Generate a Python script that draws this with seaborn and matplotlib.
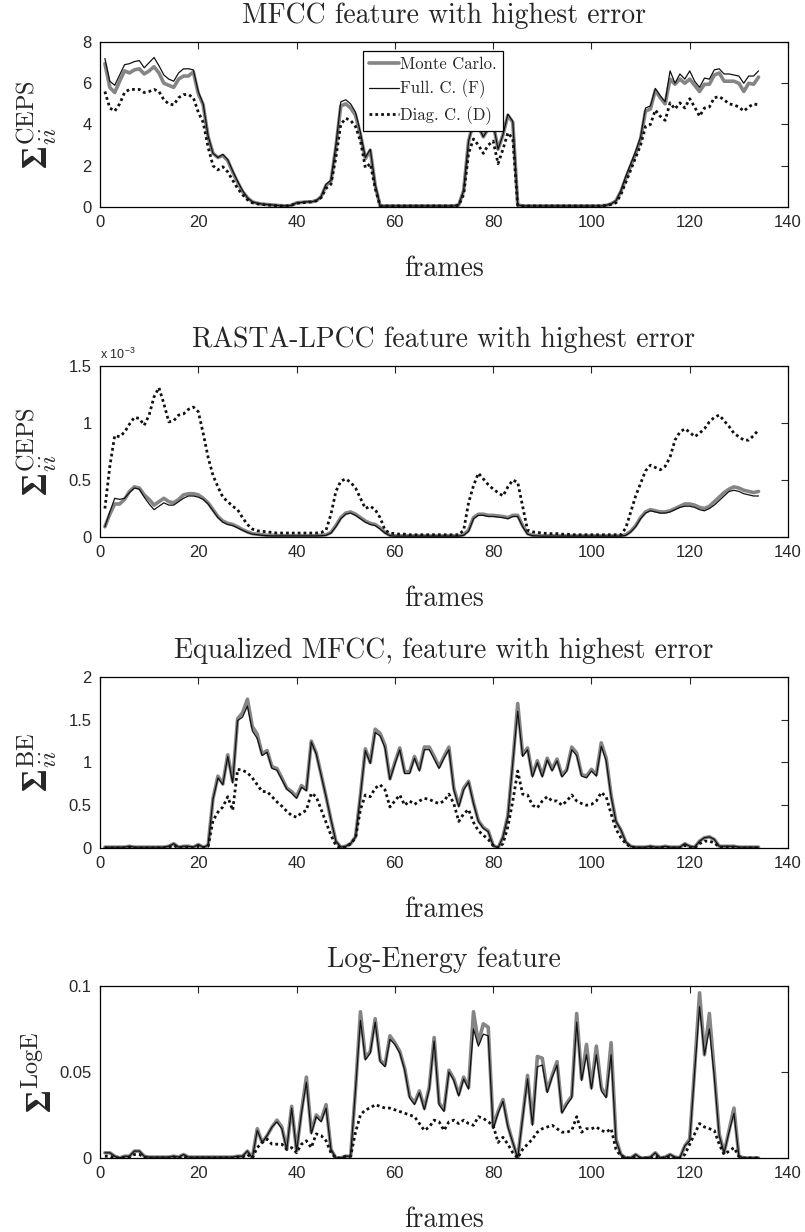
import numpy as np
import matplotlib.pyplot as plt
import seaborn as sns
from matplotlib.ticker import FuncFormatter

sns.set_style('white')
plt.rcParams['font.family'] = ['Liberation Sans', 'DejaVu Sans']
plt.rcParams['mathtext.fontset'] = 'custom'
plt.rcParams['mathtext.rm'] = 'cmr10'
plt.rcParams['mathtext.it'] = 'cmmi10'
plt.rcParams['mathtext.bf'] = 'Liberation Serif:bold'
plt.rcParams['mathtext.sf'] = 'Liberation Sans'

frames = np.arange(1, 135)

# MFCC feature with highest error
mfcc_mc = [6.95, 5.8, 5.55, 6.1, 6.6, 6.5, 6.65, 6.7, 6.45, 6.6,
           6.8, 6.5, 6.0, 5.9, 5.8, 6.2, 6.35, 6.35, 6.55, 5.5,
           4.95, 3.4, 2.6, 2.4, 2.5, 2.25, 1.7, 1.2, 0.75, 0.45,
           0.25, 0.18, 0.14, 0.12, 0.1, 0.08, 0.06, 0.05, 0.08, 0.2,
           0.22, 0.25, 0.25, 0.3, 0.5, 1.05, 1.25, 2.9, 4.9, 5.0,
           4.8, 4.45, 3.5, 2.35, 2.75, 1.05, 0.05, 0.05, 0.05, 0.05,
           0.05, 0.05, 0.05, 0.05, 0.05, 0.05, 0.05, 0.05, 0.05, 0.05,
           0.05, 0.05, 0.1, 0.8, 3.2, 4.1, 3.9, 3.4, 3.8, 4.05,
           2.8, 3.5, 4.45, 4.1, 0.1, 0.05, 0.05, 0.05, 0.05, 0.05,
           0.05, 0.05, 0.05, 0.05, 0.05, 0.05, 0.05, 0.05, 0.05, 0.05,
           0.05, 0.05, 0.08, 0.15, 0.3, 0.75, 1.4, 2.0, 2.6, 3.3,
           4.65, 4.75, 5.65, 5.3, 5.0, 6.2, 5.95, 6.2, 6.0, 6.2,
           5.9, 5.6, 5.95, 5.95, 6.4, 6.5, 6.1, 6.1, 6.1, 6.0,
           5.6, 6.0, 5.95, 6.3]
mfcc_full = [7.2, 6.1, 5.9, 6.4, 6.9, 6.95, 7.05, 7.1, 6.75, 7.0,
             7.25, 6.85, 6.4, 6.2, 6.1, 6.5, 6.7, 6.7, 6.65, 5.6,
             5.0, 3.45, 2.6, 2.4, 2.55, 2.3, 1.75, 1.25, 0.8, 0.45,
             0.25, 0.18, 0.14, 0.12, 0.1, 0.08, 0.06, 0.05, 0.08, 0.2,
             0.22, 0.25, 0.25, 0.3, 0.5, 1.1, 1.3, 3.0, 5.1, 5.2,
             5.0, 4.6, 3.6, 2.4, 2.8, 1.1, 0.05, 0.05, 0.05, 0.05,
             0.05, 0.05, 0.05, 0.05, 0.05, 0.05, 0.05, 0.05, 0.05, 0.05,
             0.05, 0.05, 0.1, 0.8, 3.2, 4.1, 3.9, 3.4, 3.8, 4.05,
             2.8, 3.5, 4.5, 4.15, 0.1, 0.05, 0.05, 0.05, 0.05, 0.05,
             0.05, 0.05, 0.05, 0.05, 0.05, 0.05, 0.05, 0.05, 0.05, 0.05,
             0.05, 0.05, 0.08, 0.15, 0.3, 0.8, 1.5, 2.1, 2.7, 3.4,
             4.8, 4.9, 5.75, 5.4, 5.1, 6.6, 6.0, 6.45, 6.2, 6.6,
             6.1, 5.8, 6.25, 6.2, 6.65, 6.7, 6.45, 6.45, 6.4, 6.35,
             6.0, 6.35, 6.35, 6.6]
mfcc_diag = [5.6, 4.8, 4.65, 5.0, 5.55, 5.7, 5.7, 5.7, 5.55, 5.6,
             5.7, 5.6, 5.2, 5.0, 4.95, 5.3, 5.45, 5.45, 5.3, 4.6,
             4.1, 2.9, 2.0, 1.8, 1.95, 1.7, 1.3, 0.9, 0.6, 0.35,
             0.2, 0.15, 0.12, 0.1, 0.08, 0.06, 0.05, 0.05, 0.1, 0.18,
             0.2, 0.22, 0.25, 0.3, 0.45, 0.9, 1.1, 2.4, 4.0, 4.3,
             4.2, 3.9, 3.2, 1.9, 2.1, 0.9, 0.05, 0.05, 0.05, 0.05,
             0.05, 0.05, 0.05, 0.05, 0.05, 0.05, 0.05, 0.05, 0.05, 0.05,
             0.05, 0.05, 0.08, 0.6, 2.6, 3.3, 3.0, 2.6, 3.0, 3.2,
             2.1, 2.8, 3.6, 3.3, 0.08, 0.05, 0.05, 0.05, 0.05, 0.05,
             0.05, 0.05, 0.05, 0.05, 0.05, 0.05, 0.05, 0.05, 0.05, 0.05,
             0.05, 0.05, 0.08, 0.12, 0.2, 0.6, 1.2, 1.8, 2.4, 3.0,
             3.9, 4.0, 4.7, 4.4, 4.2, 5.05, 4.75, 5.05, 4.8, 5.25,
             4.85, 4.4, 4.8, 4.85, 5.3, 5.35, 5.2, 5.0, 4.95, 4.85,
             4.65, 4.85, 5.0, 4.95]

# RASTA-LPCC feature with highest error (units of 1e-3)
rasta_mc = [0.09, 0.2, 0.29, 0.29, 0.33, 0.40, 0.44, 0.43, 0.37, 0.33,
            0.28, 0.31, 0.34, 0.31, 0.30, 0.33, 0.37, 0.38, 0.38, 0.37,
            0.34, 0.30, 0.24, 0.18, 0.14, 0.12, 0.11, 0.09, 0.065, 0.045,
            0.03, 0.025, 0.02, 0.015, 0.015, 0.012, 0.012, 0.012, 0.012, 0.012,
            0.012, 0.012, 0.012, 0.012, 0.015, 0.02, 0.04, 0.1, 0.17, 0.21,
            0.22, 0.2, 0.17, 0.14, 0.12, 0.11, 0.08, 0.04, 0.015, 0.01,
            0.01, 0.01, 0.01, 0.01, 0.01, 0.01, 0.01, 0.01, 0.01, 0.01,
            0.01, 0.01, 0.01, 0.02, 0.06, 0.17, 0.2, 0.2, 0.19, 0.19,
            0.185, 0.18, 0.17, 0.19, 0.19, 0.1, 0.03, 0.015, 0.012, 0.01,
            0.01, 0.01, 0.01, 0.01, 0.01, 0.01, 0.01, 0.01, 0.01, 0.01,
            0.01, 0.01, 0.01, 0.01, 0.01, 0.01, 0.02, 0.05, 0.1, 0.17,
            0.22, 0.24, 0.23, 0.22, 0.22, 0.23, 0.25, 0.27, 0.29, 0.29,
            0.28, 0.26, 0.25, 0.27, 0.31, 0.35, 0.39, 0.42, 0.44, 0.43,
            0.41, 0.40, 0.39, 0.40]
rasta_full = [0.09, 0.22, 0.34, 0.33, 0.34, 0.39, 0.43, 0.42, 0.35, 0.29,
              0.24, 0.27, 0.30, 0.28, 0.28, 0.31, 0.34, 0.36, 0.36, 0.35,
              0.33, 0.29, 0.23, 0.17, 0.13, 0.11, 0.10, 0.08, 0.06, 0.04,
              0.025, 0.02, 0.015, 0.012, 0.01, 0.01, 0.01, 0.01, 0.01, 0.01,
              0.01, 0.01, 0.01, 0.01, 0.012, 0.015, 0.035, 0.09, 0.16, 0.2,
              0.21, 0.19, 0.16, 0.13, 0.11, 0.1, 0.07, 0.035, 0.012, 0.008,
              0.008, 0.008, 0.008, 0.008, 0.008, 0.008, 0.008, 0.008, 0.008, 0.008,
              0.008, 0.008, 0.008, 0.015, 0.05, 0.16, 0.19, 0.19, 0.18, 0.18,
              0.175, 0.17, 0.16, 0.18, 0.18, 0.09, 0.025, 0.012, 0.01, 0.008,
              0.008, 0.008, 0.008, 0.008, 0.008, 0.008, 0.008, 0.008, 0.008, 0.008,
              0.008, 0.008, 0.008, 0.008, 0.008, 0.008, 0.015, 0.045, 0.09, 0.16,
              0.21, 0.23, 0.22, 0.21, 0.21, 0.22, 0.24, 0.26, 0.27, 0.27,
              0.26, 0.24, 0.23, 0.25, 0.28, 0.32, 0.36, 0.40, 0.41, 0.40,
              0.38, 0.37, 0.36, 0.36]
rasta_diag = [0.25, 0.62, 0.89, 0.88, 0.92, 0.99, 1.05, 1.04, 0.98, 1.07,
              1.23, 1.31, 1.17, 1.01, 1.02, 1.07, 1.08, 1.12, 1.14, 1.10,
              0.91, 0.70, 0.54, 0.44, 0.35, 0.31, 0.27, 0.24, 0.17, 0.11,
              0.07, 0.055, 0.05, 0.045, 0.04, 0.035, 0.035, 0.035, 0.035, 0.035,
              0.035, 0.035, 0.035, 0.035, 0.04, 0.06, 0.2, 0.4, 0.49, 0.51,
              0.48, 0.43, 0.34, 0.25, 0.27, 0.24, 0.17, 0.06, 0.035, 0.03,
              0.025, 0.025, 0.02, 0.02, 0.02, 0.02, 0.02, 0.02, 0.02, 0.02,
              0.02, 0.02, 0.02, 0.06, 0.3, 0.45, 0.56, 0.51, 0.46, 0.42,
              0.39, 0.36, 0.44, 0.50, 0.48, 0.27, 0.06, 0.045, 0.04, 0.035,
              0.03, 0.03, 0.03, 0.025, 0.025, 0.02, 0.02, 0.02, 0.02, 0.02,
              0.02, 0.02, 0.02, 0.02, 0.02, 0.02, 0.08, 0.22, 0.36, 0.47,
              0.58, 0.63, 0.61, 0.59, 0.62, 0.70, 0.85, 0.92, 0.95, 0.92,
              0.88, 0.91, 0.95, 1.01, 1.05, 1.07, 1.02, 0.97, 0.91, 0.88,
              0.85, 0.85, 0.89, 0.94]

# Equalized MFCC, feature with highest error
eq_mc = [0.01, 0.01, 0.01, 0.01, 0.01, 0.02, 0.01, 0.01, 0.01, 0.01,
         0.01, 0.01, 0.01, 0.02, 0.05, 0.01, 0.02, 0.02, 0.01, 0.04,
         0.01, 0.03, 0.58, 0.84, 0.75, 1.09, 0.78, 1.51, 1.58, 1.74,
         1.42, 1.33, 1.1, 1.14, 0.95, 0.93, 0.82, 0.7, 0.66, 0.6,
         0.73, 0.68, 1.25, 1.11, 0.86, 0.6, 0.33, 0.08, 0.01, 0.02,
         0.05, 0.13, 0.62, 1.16, 1.0, 1.39, 1.34, 1.2, 0.81, 1.0,
         1.17, 0.89, 0.89, 1.07, 0.92, 1.18, 1.18, 1.07, 0.95, 1.07,
         1.18, 0.7, 0.5, 0.7, 0.78, 0.53, 0.32, 0.24, 0.2, 0.03,
         0.0, 0.13, 0.38, 1.0, 1.69, 1.09, 1.17, 0.85, 1.02, 0.85,
         1.05, 0.92, 1.04, 0.85, 0.92, 1.18, 1.11, 0.86, 0.84, 0.92,
         0.86, 1.23, 1.05, 0.62, 0.31, 0.21, 0.07, 0.02, 0.01, 0.01,
         0.01, 0.02, 0.01, 0.01, 0.02, 0.01, 0.01, 0.01, 0.05, 0.02,
         0.01, 0.08, 0.12, 0.13, 0.1, 0.02, 0.02, 0.02, 0.02, 0.01,
         0.01, 0.01, 0.01, 0.01]
eq_full = [0.01, 0.01, 0.01, 0.01, 0.01, 0.02, 0.01, 0.01, 0.01, 0.01,
           0.01, 0.01, 0.01, 0.02, 0.05, 0.01, 0.02, 0.02, 0.01, 0.04,
           0.01, 0.03, 0.57, 0.82, 0.74, 1.07, 0.76, 1.49, 1.53, 1.66,
           1.37, 1.28, 1.08, 1.12, 0.93, 0.91, 0.8, 0.69, 0.64, 0.58,
           0.71, 0.67, 1.24, 1.1, 0.85, 0.6, 0.33, 0.08, 0.01, 0.02,
           0.05, 0.13, 0.62, 1.14, 0.99, 1.35, 1.31, 1.17, 0.8, 0.98,
           1.15, 0.87, 0.87, 1.05, 0.9, 1.15, 1.15, 1.04, 0.93, 1.05,
           1.15, 0.68, 0.48, 0.68, 0.77, 0.52, 0.31, 0.23, 0.19, 0.03,
           0.0, 0.13, 0.37, 1.0, 1.6, 1.07, 1.15, 0.83, 1.0, 0.83,
           1.03, 0.9, 1.02, 0.83, 0.9, 1.15, 1.08, 0.84, 0.82, 0.9,
           0.84, 1.19, 1.02, 0.6, 0.31, 0.21, 0.07, 0.02, 0.01, 0.01,
           0.01, 0.02, 0.01, 0.01, 0.02, 0.01, 0.01, 0.01, 0.05, 0.02,
           0.01, 0.08, 0.12, 0.13, 0.1, 0.02, 0.02, 0.02, 0.02, 0.01,
           0.01, 0.01, 0.01, 0.01]
eq_diag = [0.0, 0.0, 0.0, 0.0, 0.0, 0.01, 0.0, 0.0, 0.0, 0.0,
           0.0, 0.0, 0.0, 0.01, 0.03, 0.0, 0.01, 0.01, 0.0, 0.02,
           0.0, 0.02, 0.32, 0.42, 0.48, 0.6, 0.44, 0.92, 0.91, 0.88,
           0.82, 0.74, 0.66, 0.66, 0.6, 0.54, 0.49, 0.43, 0.38, 0.36,
           0.41, 0.44, 0.64, 0.6, 0.45, 0.3, 0.15, 0.03, 0.0, 0.01,
           0.05, 0.12, 0.45, 0.62, 0.6, 0.7, 0.74, 0.68, 0.48, 0.55,
           0.62, 0.5, 0.55, 0.51, 0.55, 0.58, 0.57, 0.54, 0.52, 0.55,
           0.63, 0.52, 0.31, 0.4, 0.45, 0.3, 0.2, 0.15, 0.1, 0.03,
           0.0, 0.05, 0.25, 0.55, 0.9, 0.63, 0.62, 0.5, 0.47, 0.55,
           0.6, 0.55, 0.55, 0.5, 0.55, 0.62, 0.55, 0.52, 0.5, 0.51,
           0.55, 0.65, 0.6, 0.4, 0.22, 0.12, 0.05, 0.01, 0.0, 0.0,
           0.0, 0.01, 0.0, 0.0, 0.01, 0.0, 0.0, 0.0, 0.03, 0.01,
           0.0, 0.05, 0.08, 0.08, 0.06, 0.01, 0.01, 0.01, 0.01, 0.0,
           0.0, 0.0, 0.0, 0.0]

# Log-Energy feature
loge_mc = [0.003, 0.003, 0.001, 0.0, 0.001, 0.001, 0.004, 0.004, 0.001, 0.0005,
           0.0005, 0.0005, 0.0005, 0.0005, 0.001, 0.0005, 0.002, 0.0005, 0.0005, 0.0005,
           0.0005, 0.0005, 0.0005, 0.0005, 0.0005, 0.0005, 0.0005, 0.001, 0.001, 0.004,
           0.0, 0.017, 0.009, 0.013, 0.018, 0.022, 0.018, 0.005, 0.03, 0.004,
           0.027, 0.047, 0.015, 0.025, 0.022, 0.031, 0.005, 0.0, 0.0, 0.001,
           0.001, 0.04, 0.085, 0.058, 0.062, 0.081, 0.057, 0.054, 0.071, 0.067,
           0.062, 0.052, 0.036, 0.032, 0.039, 0.029, 0.041, 0.07, 0.032, 0.028,
           0.051, 0.046, 0.037, 0.047, 0.041, 0.085, 0.067, 0.078, 0.076, 0.018,
           0.027, 0.034, 0.019, 0.009, 0.0, 0.024, 0.048, 0.02, 0.059, 0.058,
           0.039, 0.048, 0.056, 0.027, 0.032, 0.036, 0.084, 0.046, 0.066, 0.041,
           0.065, 0.041, 0.036, 0.067, 0.011, 0.002, 0.0, 0.0, 0.002, 0.0,
           0.0, 0.0005, 0.003, 0.0, 0.0005, 0.002, 0.0005, 0.0, 0.007, 0.011,
           0.052, 0.096, 0.06, 0.084, 0.05, 0.014, 0.003, 0.016, 0.029, 0.001,
           0.0, 0.0, 0.0, 0.0]
loge_full = [0.003, 0.003, 0.001, 0.0, 0.001, 0.001, 0.004, 0.004, 0.001, 0.0005,
             0.0005, 0.0005, 0.0005, 0.0005, 0.001, 0.0005, 0.002, 0.0005, 0.0005, 0.0005,
             0.0005, 0.0005, 0.0005, 0.0005, 0.0005, 0.0005, 0.0005, 0.001, 0.001, 0.004,
             0.0, 0.016, 0.009, 0.013, 0.018, 0.021, 0.017, 0.005, 0.029, 0.004,
             0.026, 0.044, 0.014, 0.024, 0.021, 0.029, 0.005, 0.0, 0.0, 0.001,
             0.001, 0.04, 0.08, 0.057, 0.061, 0.079, 0.056, 0.053, 0.069, 0.066,
             0.061, 0.051, 0.035, 0.031, 0.038, 0.028, 0.04, 0.068, 0.031, 0.027,
             0.05, 0.045, 0.036, 0.046, 0.04, 0.075, 0.065, 0.072, 0.071, 0.017,
             0.026, 0.033, 0.018, 0.009, 0.0, 0.023, 0.046, 0.019, 0.053, 0.054,
             0.038, 0.047, 0.054, 0.026, 0.031, 0.035, 0.079, 0.045, 0.06, 0.04,
             0.06, 0.039, 0.035, 0.06, 0.01, 0.002, 0.0, 0.0, 0.002, 0.0,
             0.0, 0.0005, 0.003, 0.0, 0.0005, 0.002, 0.0005, 0.0, 0.007, 0.01,
             0.05, 0.088, 0.06, 0.075, 0.047, 0.013, 0.003, 0.015, 0.026, 0.001,
             0.0, 0.0, 0.0, 0.0]
loge_diag = [0.001, 0.001, 0.0, 0.0, 0.0, 0.0005, 0.002, 0.002, 0.0005, 0.0,
             0.0, 0.0, 0.0, 0.0, 0.0005, 0.0, 0.001, 0.0, 0.0, 0.0,
             0.0, 0.0, 0.0, 0.0, 0.0, 0.0, 0.0, 0.0005, 0.0005, 0.002,
             0.0, 0.006, 0.009, 0.011, 0.008, 0.008, 0.008, 0.005, 0.006, 0.003,
             0.008, 0.010, 0.006, 0.014, 0.013, 0.010, 0.003, 0.0, 0.0, 0.001,
             0.001, 0.015, 0.025, 0.028, 0.029, 0.031, 0.030, 0.029, 0.029, 0.028,
             0.027, 0.026, 0.025, 0.024, 0.020, 0.016, 0.018, 0.022, 0.021, 0.016,
             0.021, 0.022, 0.020, 0.022, 0.020, 0.019, 0.024, 0.023, 0.021, 0.019,
             0.009, 0.012, 0.008, 0.003, 0.0, 0.005, 0.008, 0.011, 0.015, 0.017,
             0.018, 0.019, 0.017, 0.015, 0.015, 0.016, 0.024, 0.015, 0.017, 0.017,
             0.018, 0.016, 0.015, 0.017, 0.005, 0.001, 0.0, 0.0, 0.0005, 0.0,
             0.0, 0.0, 0.001, 0.0, 0.0, 0.001, 0.0, 0.0, 0.002, 0.008,
             0.014, 0.020, 0.018, 0.017, 0.016, 0.008, 0.002, 0.004, 0.006, 0.001,
             0.0, 0.0, 0.0, 0.0]

titles = ['MFCC feature with highest error',
          'RASTA-LPCC feature with highest error',
          'Equalized MFCC, feature with highest error',
          'Log-Energy feature']
ylabels = [r'$\mathbf{\Sigma}_{ii}^{\mathrm{CEPS}}$',
           r'$\mathbf{\Sigma}_{ii}^{\mathrm{CEPS}}$',
           r'$\mathbf{\Sigma}_{ii}^{\mathrm{BE}}$',
           r'$\mathbf{\Sigma}^{\mathrm{LogE}}$']
series = [(mfcc_mc, mfcc_full, mfcc_diag),
          (rasta_mc, rasta_full, rasta_diag),
          (eq_mc, eq_full, eq_diag),
          (loge_mc, loge_full, loge_diag)]
yticks = [[0, 2, 4, 6, 8], [0, 0.5, 1, 1.5], [0, 0.5, 1, 1.5, 2], [0, 0.05, 0.1]]
xticks = [0, 20, 40, 60, 80, 100, 120, 140]
legend_names = ['Monte Carlo.', 'Full. C. (F)', 'Diag. C. (D)']

fig = plt.figure(figsize=(8.05, 12.32), dpi=100)
boxes = [[0.1242, 0.8320, 0.8547, 0.1339],
         [0.1242, 0.5641, 0.8547, 0.1388],
         [0.1242, 0.3117, 0.8547, 0.1388],
         [0.1242, 0.0601, 0.8547, 0.1396]]

for i, box in enumerate(boxes):
    ax = fig.add_axes(box)
    mc, full, diag = series[i]
    names = legend_names if i == 0 else [None, None, None]
    sns.lineplot(x=frames, y=mc, ax=ax, color='#858585', lw=2.6, label=names[0])
    sns.lineplot(x=frames, y=full, ax=ax, color='#111111', lw=0.9, label=names[1])
    sns.lineplot(x=frames, y=diag, ax=ax, color='#111111', lw=2.0,
                 linestyle=(0, (1, 1.1)), label=names[2])

    ax.set_xlim(0, 140)
    ax.set_ylim(yticks[i][0], yticks[i][-1])
    ax.set_xticks(xticks)
    ax.set_yticks(yticks[i])
    ax.yaxis.set_major_formatter(FuncFormatter(lambda v, p: '%g' % v))
    ax.tick_params(direction='in', top=True, right=True, length=5, width=0.8,
                   labelsize=12, pad=6)
    for s in ax.spines.values():
        s.set_color('black')
        s.set_linewidth(0.9)

    ax.set_title(titles[i], fontfamily='cmr10', fontsize=20, pad=14)
    ax.set_xlabel('frames', fontfamily='cmr10', fontsize=20, labelpad=18)
    ax.set_ylabel(ylabels[i], fontsize=25)
    ax.yaxis.set_label_coords(-0.06, 0.5)

    if i == 1:
        ax.text(0.0, 1.025, r'x 10$^{\mathsf{-3}}$', transform=ax.transAxes,
                fontsize=9, ha='left', va='bottom')

    if i == 0:
        ax.legend(loc='upper left', bbox_to_anchor=(0.382, 0.945), frameon=True,
                  fancybox=False, edgecolor='black', framealpha=1,
                  prop={'family': 'cmr10', 'size': 12}, handlelength=1.8,
                  handletextpad=0.1, borderpad=0.35, labelspacing=0.45,
                  borderaxespad=0)
        ax.get_legend().get_frame().set_linewidth(0.9)

fig.savefig('out.png', dpi=100)
